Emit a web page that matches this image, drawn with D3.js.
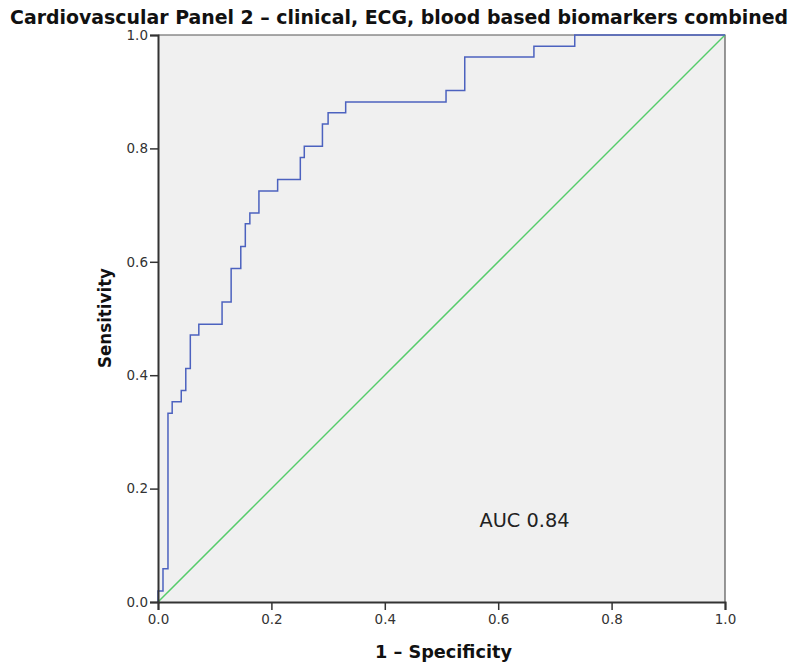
<!DOCTYPE html>
<html>
<head>
<meta charset="utf-8">
<script src="https://cdn.jsdelivr.net/npm/d3@7"></script>
<style>
  body { margin: 0; background: #fff; }
  svg { display: block; font-family: "DejaVu Sans", sans-serif; }
</style>
</head>
<body>
<svg id="chart" width="801" height="668"></svg>
<script>
// ROC step corners: vertical rise to sens[i] at previous fpr, then across to fpr[i]
const fpr = [0, 0.0088, 0.0176, 0.025, 0.041, 0.049, 0.057, 0.072, 0.113, 0.129, 0.146, 0.154,
  0.162, 0.178, 0.211, 0.251, 0.258, 0.290, 0.300, 0.331, 0.508, 0.541, 0.663, 0.735, 1.0]
const sens = [0, 0.0196, 0.0588, 0.333, 0.353, 0.373, 0.412, 0.471, 0.490, 0.529, 0.588, 0.627,
  0.667, 0.686, 0.725, 0.745, 0.784, 0.804, 0.843, 0.863, 0.882, 0.902, 0.961, 0.980, 1.0]
const refLine = [0, 1]
const ticks = [0, 0.2, 0.4, 0.6, 0.8, 1.0]
const titleText = "Cardiovascular Panel 2 – clinical, ECG, blood based biomarkers combined"
const xTitle = "1 – Specificity"
const yTitle = "Sensitivity"
const aucText = "AUC 0.84"

const m = { left: 158, top: 35 }
const w = 567, h = 567

const svg = d3.select("#chart")

/* titulo */
svg.append("text")
  .attr("x", 10).attr("y", 23.5)
  .attr("textLength", 778).attr("lengthAdjust", "spacingAndGlyphs")
  .attr("font-size", 19).attr("font-weight", "bold").attr("fill", "#111")
  .text(titleText)

const g = svg.append("g").attr("transform", `translate(${m.left},${m.top})`)

const x = d3.scaleLinear().domain([0, 1]).range([0, w])
const y = d3.scaleLinear().domain([0, 1]).range([h, 0])

g.append("rect").attr("width", w).attr("height", h).attr("fill", "#f0f0f0")

/* borde superior y derecho */
g.append("path")
  .attr("d", `M0,0H${w}V${h}`)
  .attr("fill", "none").attr("stroke", "#555").attr("stroke-width", 1.2)

/* diagonal de referencia */
g.append("path")
  .datum(refLine)
  .attr("d", d3.line().x(d => x(d)).y(d => y(d)))
  .attr("fill", "none").attr("stroke", "#55cc6a").attr("stroke-width", 1.5)

/* curva ROC */
const pts = fpr.map((f, i) => [f, sens[i]])
g.append("path")
  .datum(pts)
  .attr("d", d3.line().x(d => x(d[0])).y(d => y(d[1])).curve(d3.curveStepBefore))
  .attr("fill", "none").attr("stroke", "#4c62bf").attr("stroke-width", 1.5)

/* ejes */
const xAxis = g.append("g").attr("transform", `translate(0,${h})`)
  .call(d3.axisBottom(x).tickValues(ticks).tickFormat(d3.format(".1f")).tickSize(8).tickPadding(4))
const yAxis = g.append("g")
  .call(d3.axisLeft(y).tickValues(ticks).tickFormat(d3.format(".1f")).tickSize(8).tickPadding(2))

;[xAxis, yAxis].forEach(a => {
  a.select(".domain").attr("stroke", "#333").attr("stroke-width", 2)
  a.selectAll(".tick line").attr("stroke", "#333").attr("stroke-width", 1.5)
  a.selectAll(".tick text").attr("font-size", 13.5).attr("fill", "#333")
    .attr("font-family", "DejaVu Sans, sans-serif")
})

/* titulos de ejes */
svg.append("text")
  .attr("x", 375).attr("y", 658)
  .attr("textLength", 137).attr("lengthAdjust", "spacingAndGlyphs")
  .attr("font-size", 18).attr("font-weight", "bold").attr("fill", "#111")
  .text(xTitle)

svg.append("text")
  .attr("transform", "translate(110.5,368) rotate(-90)")
  .attr("textLength", 100).attr("lengthAdjust", "spacingAndGlyphs")
  .attr("font-size", 18).attr("font-weight", "bold").attr("fill", "#111")
  .text(yTitle)

/* etiqueta AUC */
g.append("text")
  .attr("x", x(0.567)).attr("y", y(0.132))
  .attr("textLength", 90).attr("lengthAdjust", "spacingAndGlyphs")
  .attr("font-size", 19).attr("fill", "#222")
  .text(aucText)
</script>
</body>
</html>
